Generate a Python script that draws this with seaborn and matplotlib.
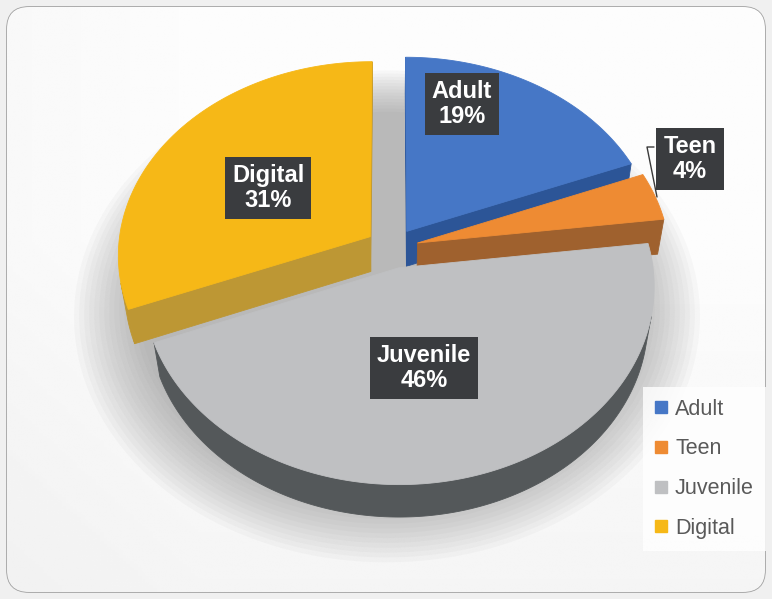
import numpy as np
import matplotlib
matplotlib.use("Agg")
import matplotlib.pyplot as plt
from matplotlib.patches import FancyBboxPatch
from matplotlib.lines import Line2D
import seaborn as sns

# ---------------- data ----------------
categories = ["Adult", "Teen", "Juvenile", "Digital"]
values = [19, 4, 46, 31]
top_colors = ["#4677C6", "#EE8B33", "#BFC0C2", "#F6B817"]
side_colors = ["#2C5597", "#9F612E", "#54585A", "#BD9734"]
label_pos = [(462, 104), (690, 159), (424, 368), (268, 188)]

sns.set_theme(style="white")
plt.rcParams['font.family'] = ['Liberation Sans', 'DejaVu Sans']

W, H = 772, 599
fig = plt.figure(figsize=(W / 100, H / 100), dpi=100)
fig.patch.set_facecolor("#F0F0F0")
ax = fig.add_axes([0, 0, 1, 1])
ax.set_xlim(0, W)
ax.set_ylim(H, 0)
ax.axis('off')

# rounded frame with soft gradient
frame = FancyBboxPatch((7, 7), 758, 585, boxstyle="round,pad=0,rounding_size=22",
                       fc="#FCFCFC", ec="#A0A0A0", lw=1.2, zorder=0)
ax.add_patch(frame)
gy, gx = np.mgrid[0:1:200j, 0:1:200j]
grad = 0.99 - 0.05 * np.clip(gy - 0.4, 0, 1) - 0.06 * np.clip(0.25 - gx, 0, 1)
im = ax.imshow(grad, extent=(7, 765, 592, 7), cmap="gray", vmin=0, vmax=1,
               zorder=0.5, aspect='auto')
im.set_clip_path(frame)

# ---------------- projection ----------------
alpha = np.radians(50)
D = 7.0
scale = 252.0
CX, CY = 392.0, 248.0
ca, sa = np.cos(alpha), np.sin(alpha)
cam = np.array([0.0, -D * ca, D * sa])
explode = 0.105
thick = 0.22


def proj(x, y, z):
    x = np.asarray(x, float)
    y = np.asarray(y, float)
    z = np.asarray(z, float)
    yc = y * sa + z * ca
    zc = D + y * ca - z * sa
    return CX + scale * D * x / zc, CY - scale * D * yc / zc


def fill3d(xs, ys, zs, color, z):
    px, py = proj(xs, ys, zs)
    ax.fill(px, py, color=color, lw=0.6, ec=color, zorder=z)


# soft shadow under the pie
for i, r in enumerate(np.linspace(1.26, 1.0, 14)):
    t = np.linspace(0, 2 * np.pi, 300)
    px, py = proj(r * np.cos(t) - 0.02, r * np.sin(t) - 0.03, -thick)
    ax.fill(px, py, color="#777777", alpha=0.045, lw=0, zorder=1)

# slice angles (start at 12 o'clock, clockwise)
fr = np.array(values, float) / np.sum(values)
hi = 90 - 360 * np.concatenate([[0], np.cumsum(fr)[:-1]])
lo = hi - 360 * fr
mid = (hi + lo) / 2

order = np.argsort(-np.sin(np.radians(mid)))  # far slices first
for k, idx in enumerate(order):
    t1, t2, tm = np.radians(lo[idx]), np.radians(hi[idx]), np.radians(mid[idx])
    ox, oy = explode * np.cos(tm), explode * np.sin(tm)
    zbase = 2 + k * 3
    # outer wall
    th = np.linspace(t1, t2, 300)
    rx, ry = ox + np.cos(th), oy + np.sin(th)
    vis = np.cos(th) * (cam[0] - rx) + np.sin(th) * (cam[1] - ry) > 0
    if vis.any():
        segs = np.split(np.arange(len(th)), np.where(np.diff(vis.astype(int)) != 0)[0] + 1)
        for s in segs:
            if vis[s[0]] and len(s) > 1:
                xs = np.concatenate([rx[s], rx[s][::-1]])
                ys = np.concatenate([ry[s], ry[s][::-1]])
                zs = np.concatenate([np.zeros(len(s)), -thick * np.ones(len(s))])
                fill3d(xs, ys, zs, side_colors[idx], zbase)
    # radial faces
    for ang, nrm in [(t1, (np.sin(t1), -np.cos(t1))), (t2, (-np.sin(t2), np.cos(t2)))]:
        if nrm[0] * (cam[0] - ox) + nrm[1] * (cam[1] - oy) > 0:
            ex, ey = ox + np.cos(ang), oy + np.sin(ang)
            fill3d([ox, ex, ex, ox], [oy, ey, ey, oy], [0, 0, -thick, -thick],
                   side_colors[idx], zbase + 0.5)
    # top face
    xs = np.concatenate([[ox], rx])
    ys = np.concatenate([[oy], ry])
    fill3d(xs, ys, np.zeros(len(xs)), top_colors[idx], zbase + 1)

# ---------------- labels ----------------
for i, (lx, ly) in enumerate(label_pos):
    ax.text(lx, ly, f"{categories[i]}\n{values[i]}%", ha="center", va="center",
            fontsize=17, fontweight="bold", color="white", linespacing=1.15,
            bbox=dict(boxstyle="square,pad=0.3", fc="#3A3C3F", ec="none"),
            zorder=30)

# leader line for Teen
ax.plot([654, 647, 657], [147, 147, 197], color="#3A3A3A", lw=1.0, zorder=29)

# ---------------- legend ----------------
handles = [Line2D([0], [0], marker='s', ls='none', markersize=8,
                  markerfacecolor=c, markeredgecolor=c) for c in top_colors]
leg = ax.legend(handles, categories, loc="upper left",
                bbox_to_anchor=(632 / W, 1 - 376 / H), frameon=True,
                fontsize=15.5, handlelength=0.6, handletextpad=0.35,
                labelspacing=0.87, borderpad=0.55, labelcolor="#595959")
leg.get_frame().set_facecolor("white")
leg.get_frame().set_edgecolor("none")
leg.get_frame().set_alpha(0.8)
leg.get_frame().set_boxstyle("square", pad=0)
leg.set_zorder(40)

fig.savefig("out.png", dpi=100, facecolor=fig.get_facecolor())
